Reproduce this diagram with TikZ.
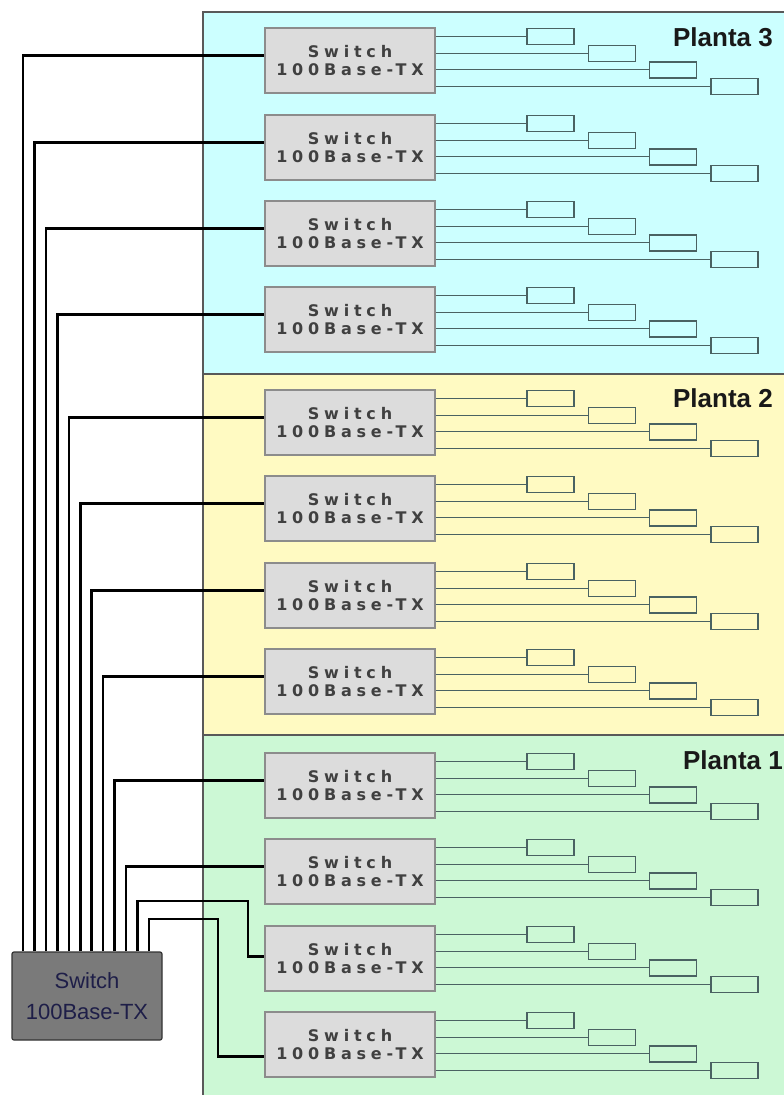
\documentclass[tikz,border=0pt]{standalone}
\usepackage{fontspec}
\setmainfont{Liberation Sans}
\newfontfamily\swfont[LetterSpace=30]{DejaVu Sans}
\definecolor{cyanfloor}{HTML}{CCFFFF}
\definecolor{yellowfloor}{HTML}{FFFAC2}
\definecolor{greenfloor}{HTML}{CCF8D5}
\definecolor{boxline}{HTML}{4A6262}
\definecolor{swfill}{HTML}{DCDCDC}
\definecolor{corefill}{HTML}{7A7A7A}
\definecolor{coretext}{HTML}{1E1E48}
\begin{document}
\begin{tikzpicture}[x=1pt,y=-1pt,
 floor/.style={draw=black!65,line width=2pt},
 switchbox/.style={draw=black!45,fill=swfill,line width=1.2pt,
  minimum width=170pt,minimum height=65pt,inner sep=0pt,align=center,text=black!75,
  font=\swfont\fontsize{16}{17.5}\selectfont\bfseries},
 pcbox/.style={draw=boxline,line width=1.2pt,minimum width=47pt,minimum height=16pt,inner sep=0pt},
 link/.style={draw=boxline,line width=1pt},
 wire/.style={draw=black,line width=2.6pt},
 core/.style={draw=black!80,fill=corefill,rounded corners=2pt,line width=1.2pt,
  minimum width=150pt,minimum height=88pt,align=center,text=coretext,
  font=\fontsize{22}{31}\selectfont},
 planta/.style={anchor=north east,inner sep=0pt,font=\fontsize{26}{26}\selectfont\bfseries,text=black!90}]
 \clip (0,0) rectangle (784,1095);
 \fill[white] (0,0) rectangle (784,1095);
 \draw[floor,fill=cyanfloor] (203,12) rectangle (800,373.5);
 \draw[floor,fill=yellowfloor] (203,373.5) rectangle (800,735);
 \draw[floor,fill=greenfloor] (203,735) rectangle (800,1110);
 \node[planta] (p3) at (773,27) {Planta 3};
 \node[planta] (p2) at (773,388) {Planta 2};
 \node[planta] (p1) at (783,750) {Planta 1};
 \foreach \i/\ty in {1/28,2/115,3/201,4/287,5/390,6/476,7/563,8/649,9/753,10/839,11/926,12/1012} {
  \node[switchbox] (sw\i) at (350,\ty+32.5) {Switch\\100Base-TX};
  \foreach \j in {0,...,3} {
   \node[pcbox] (pc\i-\j) at ({550.5+61.3*\j},{\ty+8.5+16.7*\j}) {};
   \draw[link] (sw\i.east |- pc\i-\j.west) -- (pc\i-\j.west);
  }
 }
 \node[core] (core) at (87,996) {Switch\\100Base-TX};
 \foreach \i in {1,...,12}
  \coordinate (w\i) at ({23+11.45*(\i-1)},0);
 \foreach \i in {1,...,10}
  \draw[wire] (core.north -| w\i) |- ([yshift=5pt]sw\i.west);
 \coordinate (bend11) at (248,901);
 \coordinate (bend12) at (218,919);
 \draw[wire] (core.north -| w11) |- (bend11) |- ([yshift=2pt]sw11.west);
 \draw[wire] (core.north -| w12) |- (bend12) |- ([yshift=-12pt]sw12.west);
\end{tikzpicture}
\end{document}
